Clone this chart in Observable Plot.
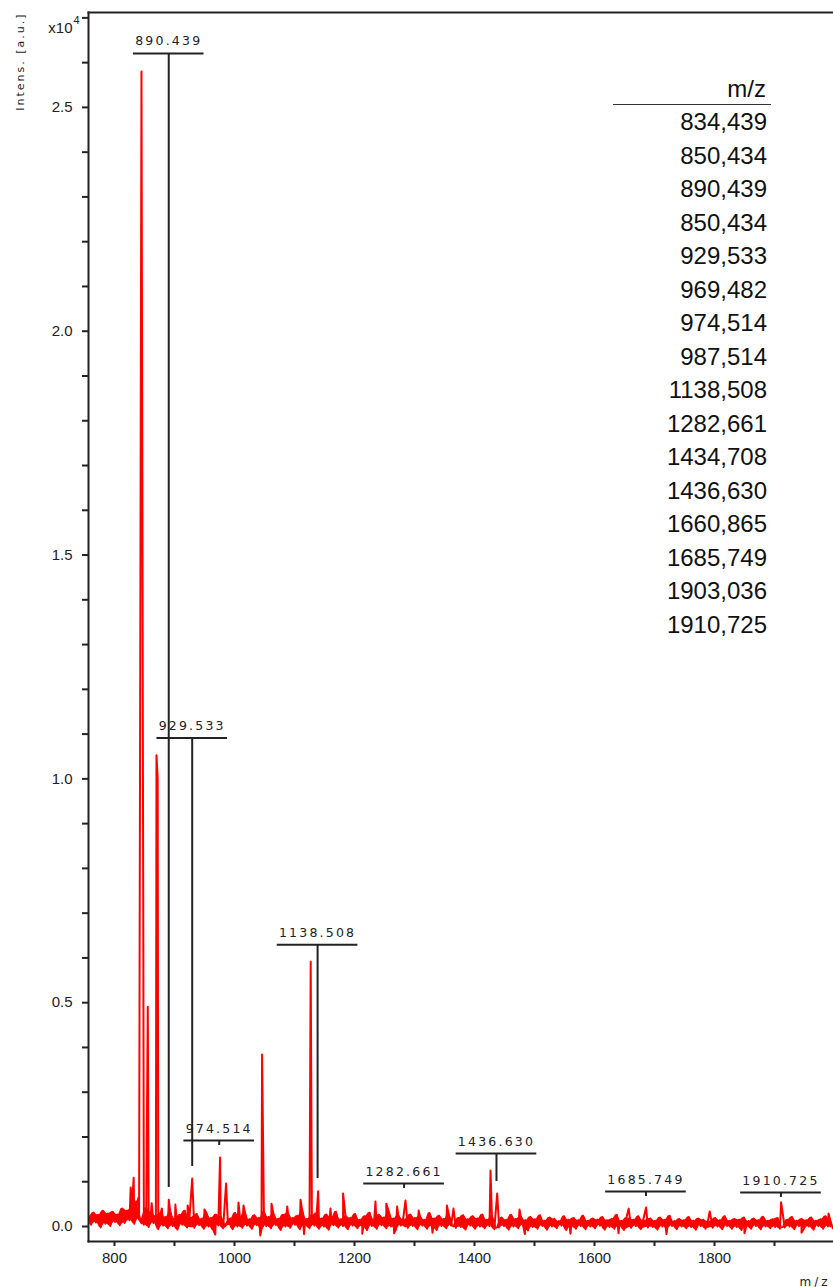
<!DOCTYPE html>
<html>
<head>
<meta charset="utf-8">
<script src="https://cdn.jsdelivr.net/npm/d3@7"></script>
<script src="https://cdn.jsdelivr.net/npm/@observablehq/plot@0.6"></script>
<style>
  html, body { margin: 0; padding: 0; background: #fff; }
  #wrap { position: relative; width: 833px; height: 1287px; overflow: hidden; }
  #peaktable { position: absolute; left: 613px; top: 73px; width: 158px;
    font-family: "Liberation Sans", Arial, sans-serif; font-size: 24px; color: #111; text-align: right; }
  #peaktable .head { height: 31px; line-height: 31px; border-bottom: 1px solid #333; padding-right: 5px; }
  #peaktable .row { height: 33.5px; line-height: 33.5px; padding-right: 4px; }
</style>
</head>
<body>
<div id="wrap"></div>
<script>
// Baseline noise of the spectrum (m/z, intensity in a.u.), alternating crest / trough
const noise = [
  [757,230],[761,40],[765,310],[769,90],[773,260],[777,-20],[781,350],[785,60],[789,290],[793,10],
  [797,330],[801,100],[805,270],[809,30],[813,400],[817,80],[821,360],[825,140],[829,420],[833,60],
  [837,480],[841,170],[849,40],[853,420],[857,-10],[861,330],[865,80],[869,240],[873,-60],[877,300],
  [881,20],[885,210],[889,-40],[893,330],[897,10],[901,180],[905,-70],[909,260],[913,40],[917,350],
  [921,-20],[925,200],[933,-30],[937,280],[941,30],[945,170],[949,-50],[953,310],[957,0],[961,190],
  [965,-90],[969,270],[973,20],[977,230],[981,-40],[989,50],[993,180],[997,-60],[1001,300],[1005,0],
  [1009,220],[1013,-30],[1017,340],[1021,20],[1025,160],[1029,-50],[1033,250],[1037,30],[1041,190],[1045,-70],
  [1049,330],[1053,10],[1057,210],[1061,-40],[1065,280],[1069,30],[1073,170],[1077,-80],[1081,260],[1085,0],
  [1089,310],[1093,-30],[1097,190],[1101,40],[1105,240],[1109,-60],[1113,360],[1117,10],[1121,170],[1125,-40],
  [1129,250],[1133,20],[1137,300],[1141,-50],[1145,180],[1149,0],[1153,270],[1157,-70],[1161,200],[1165,30],
  [1169,330],[1173,-20],[1177,160],[1181,10],[1185,240],[1189,-60],[1193,190],[1197,20],[1201,280],[1205,-40],
  [1209,150],[1213,0],[1217,230],[1221,-80],[1225,310],[1229,10],[1233,170],[1237,-50],[1241,260],[1245,30],
  [1249,200],[1253,-40],[1257,340],[1261,0],[1265,180],[1269,-70],[1273,250],[1277,20],[1281,160],[1289,-30],
  [1293,270],[1297,10],[1301,190],[1305,-60],[1309,230],[1313,20],[1317,150],[1321,-50],[1325,300],[1329,0],
  [1333,180],[1337,-80],[1341,240],[1345,10],[1349,170],[1353,-40],[1357,280],[1361,20],[1369,-30],[1373,190],
  [1377,-10],[1381,250],[1385,-70],[1389,160],[1393,20],[1397,230],[1401,-50],[1405,180],[1409,0],[1413,270],
  [1417,-40],[1421,150],[1425,10],[1429,240],[1433,-60],[1441,-20],[1445,200],[1449,10],[1453,150],[1457,-70],
  [1461,260],[1465,0],[1469,170],[1473,-40],[1477,230],[1481,20],[1485,140],[1489,-90],[1493,210],[1497,-10],
  [1501,160],[1505,-50],[1509,250],[1513,10],[1517,130],[1521,-70],[1525,200],[1529,0],[1533,170],[1537,-40],
  [1541,120],[1545,20],[1549,230],[1553,-80],[1557,150],[1561,-10],[1565,190],[1569,-50],[1573,140],[1577,10],
  [1581,240],[1585,-60],[1589,130],[1593,0],[1597,180],[1601,-40],[1605,150],[1609,20],[1613,210],[1617,-70],
  [1621,140],[1625,-10],[1629,170],[1633,-50],[1637,260],[1641,0],[1645,130],[1649,-80],[1653,190],[1661,-30],
  [1665,150],[1669,10],[1673,230],[1677,-60],[1681,140],[1689,-20],[1693,180],[1697,-10],[1701,130],[1705,-70],
  [1709,200],[1713,0],[1717,150],[1721,-50],[1725,240],[1729,10],[1733,120],[1737,-60],[1741,170],[1745,0],
  [1749,140],[1753,-40],[1757,210],[1761,-10],[1765,130],[1769,-70],[1773,180],[1777,10],[1781,150],[1785,-50],
  [1789,120],[1797,-30],[1801,190],[1805,0],[1809,140],[1813,-60],[1817,230],[1821,10],[1825,130],[1829,-50],
  [1833,170],[1837,-10],[1841,150],[1845,-80],[1849,200],[1853,0],[1857,120],[1861,-50],[1865,180],[1869,10],
  [1873,140],[1877,-60],[1881,220],[1885,0],[1889,130],[1893,-40],[1897,160],[1901,-10],[1905,190],[1909,-50],
  [1917,-20],[1921,150],[1925,0],[1929,210],[1933,-60],[1937,130],[1941,10],[1945,170],[1949,-50],[1953,140],
  [1957,0],[1961,200],[1965,-70],[1969,130],[1973,10],[1977,160],[1981,-50],[1985,230],[1989,0],[1993,140],
  [1997,-40]
];

// Peaks rising above the noise (m/z, intensity)
const peaks = [
  [827,870],[832,1090],[836,560],[840,650],[845,25800],[855.5,4910],[862,520],[870,10530],[872,10000],
  [879,400],[890.5,600],[901.5,490],[922,470],[929.5,1070],[950,380],[976,1540],[986,960],[1006.7,535],
  [1015,470],[1046,3840],[1061.7,510],[1088,445],[1110,600],[1127,5915],[1139.5,790],[1160,400],[1181,735],
  [1235,560],[1253,510],[1271,445],[1285,580],[1307,360],[1354,470],[1365,400],[1426.7,1250],[1437.8,735],
  [1475,380],[1657,400],[1686,425],[1792,335],[1911,540],[1990,290]
];

// Downward excursions of the trace
const dips = [
  [968,-180],[1043,-200],[1116,-170],[1213,-160],[1266,-150],[1330,-140],[1484,-170],[1560,-160],
  [1640,-150],[1720,-170],[1850,-150],[1945,-140]
];

// Labelled peaks: m/z, label text, height of the label bar, lower end of the stem
const annotations = [
  {mz: 890.439, label: "890.439", bar: 26205, stemEnd: 870},
  {mz: 929.533, label: "929.533", bar: 10915, stemEnd: 1339},
  {mz: 974.514, label: "974.514", bar: 1920, stemEnd: 1810},
  {mz: 1138.508, label: "1138.508", bar: 6294, stemEnd: 1071},
  {mz: 1282.661, label: "1282.661", bar: 960, stemEnd: 850},
  {mz: 1436.630, label: "1436.630", bar: 1629, stemEnd: 1004},
  {mz: 1685.749, label: "1685.749", bar: 781, stemEnd: 670},
  {mz: 1910.725, label: "1910.725", bar: 759, stemEnd: 650}
];

// Peak list shown in the table
const tableMz = ["834,439","850,434","890,439","850,434","929,533","969,482","974,514","987,514",
  "1138,508","1282,661","1434,708","1436,630","1660,865","1685,749","1903,036","1910,725"];

// Axis ticks
const xMajor = [800, 1000, 1200, 1400, 1600, 1800];
const xMinor = [900, 1100, 1300, 1500, 1700, 1900];
const yMajor = [0, 5000, 10000, 15000, 20000, 25000];
const yMinor = [1000,2000,3000,4000,6000,7000,8000,9000,11000,12000,13000,14000,16000,17000,18000,19000,21000,22000,23000,24000,26000,27000];

// full trace, and the crest/trough envelope of the noise between neighbouring samples
const series = [...noise, ...peaks, ...dips].sort((a, b) => a[0] - b[0]);
const band = d3.pairs(noise).map(([a, b]) => ({mz: (a[0] + b[0]) / 2, lo: Math.min(a[1], b[1]), hi: Math.max(a[1], b[1])}));

const ink = "#222";
const red = "#ff0000";
const charWidth = 8.4; // m/z units per label character for the label bar

const chart = Plot.plot({
  width: 833,
  height: 1287,
  marginLeft: 88,
  marginRight: 0,
  marginTop: 12,
  marginBottom: 46,
  x: {domain: [756.7, 1998.3]},
  y: {domain: [-335, 27120]},
  style: {fontFamily: "'Liberation Sans', Arial, sans-serif", fontSize: "15px", color: ink, background: "#fff"},
  marks: [
    Plot.areaY(band, {x: "mz", y1: "lo", y2: "hi", fill: red, clip: true}),
    Plot.line(series, {x: d => d[0], y: d => d[1], stroke: red, strokeWidth: 2, clip: true}),
    // label bars, stems and texts
    Plot.ruleY(annotations, {y: "bar", x1: d => d.mz - d.label.length * charWidth, x2: d => d.mz + d.label.length * charWidth, stroke: ink, strokeWidth: 2}),
    Plot.ruleX(annotations, {x: "mz", y1: "bar", y2: "stemEnd", stroke: ink, strokeWidth: 2}),
    Plot.text(annotations, {x: "mz", y: "bar", text: "label", lineAnchor: "bottom", dy: -8,
      fontFamily: "'DejaVu Sans', sans-serif", fontSize: 12.5, fill: ink}),
    // frame sides
    Plot.frame({anchor: "left", stroke: ink, strokeWidth: 2}),
    Plot.frame({anchor: "top", stroke: ink, strokeWidth: 2}),
    Plot.frame({anchor: "bottom", stroke: ink, strokeWidth: 2}),
    // axes
    Plot.axisX({ticks: xMajor, tickSize: 5, tickPadding: 6, tickFormat: d3.format("d"), strokeWidth: 2, stroke: ink, label: null, fontSize: 15}),
    Plot.axisX({ticks: xMinor, tickSize: 5, tickFormat: () => "", strokeWidth: 2, stroke: ink, label: null}),
    Plot.axisY({ticks: yMajor, tickSize: 6, tickPadding: 10, tickFormat: d => (d / 1e4).toFixed(1), strokeWidth: 2, stroke: ink, label: null, fontSize: 15}),
    Plot.axisY({ticks: yMinor, tickSize: 6, tickFormat: () => "", strokeWidth: 2, stroke: ink, label: null}),
    // axis titles: scale exponent, intensity and m/z
    Plot.text(["x10"], {frameAnchor: "top-left", textAnchor: "end", dx: -16, dy: 10, fontSize: 15, fill: ink}),
    Plot.text(["4"], {frameAnchor: "top-left", textAnchor: "end", dx: -9, dy: 4, fontSize: 11, fill: ink}),
    Plot.text(["Intens. [a.u.]"], {frameAnchor: "top-left", textAnchor: "end", rotate: -90, dx: -72, dy: 0,
      fontFamily: "'DejaVu Sans', sans-serif", fontSize: 11, fill: ink}),
    Plot.text(["m/z"], {frameAnchor: "bottom-right", textAnchor: "end", lineAnchor: "bottom", dx: -3, dy: 44,
      fontFamily: "'DejaVu Sans', sans-serif", fontSize: 12, fill: ink})
  ]
});

// widen the letter spacing of the peak labels and axis titles
const spaced = new Map([
  ...annotations.map(a => [a.label, "2.2px"]),
  ["Intens. [a.u.]", "2px"],
  ["m/z", "3px"]
]);
chart.querySelectorAll("text").forEach(t => {
  const s = t.textContent;
  if (spaced.has(s)) t.style.letterSpacing = spaced.get(s);
});

const wrap = document.getElementById("wrap");
wrap.appendChild(chart);

// peak list table
const table = document.createElement("div");
table.id = "peaktable";
const head = document.createElement("div");
head.className = "head";
head.textContent = "m/z";
table.appendChild(head);
for (const v of tableMz) {
  const row = document.createElement("div");
  row.className = "row";
  row.textContent = v;
  table.appendChild(row);
}
wrap.appendChild(table);
</script>
</body>
</html>
